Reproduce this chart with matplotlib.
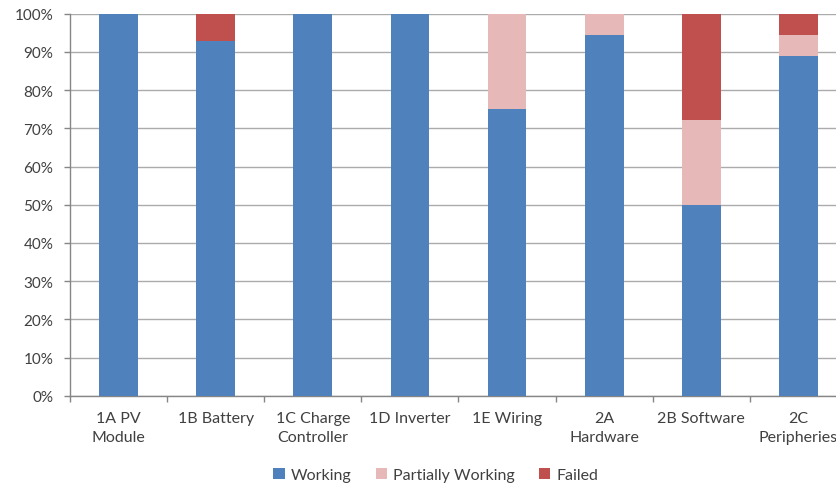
import matplotlib
matplotlib.use("Agg")
import matplotlib.pyplot as plt
import numpy as np
from matplotlib.ticker import FixedLocator, PercentFormatter

categories = ["1A PV\nModule", "1B Battery", "1C Charge\nController", "1D Inverter",
              "1E Wiring", "2A\nHardware", "2B Software", "2C\nPeripheries"]
working = [100, 92.9, 100, 100, 75, 94.4, 50, 88.9]
partial = [0, 0, 0, 0, 25, 5.6, 22.2, 5.55]
failed = [0, 7.1, 0, 0, 0, 0, 27.8, 5.55]

series_names = ["Working", "Partially Working", "Failed"]
colors = ["#4F81BD", "#E6B9B8", "#C0504D"]

plt.rcParams['font.family'] = ['Lato', 'DejaVu Sans']
fig = plt.figure(figsize=(8.37, 4.85), dpi=100)
ax = fig.add_axes([70/837, (485-396.7)/485, 777/837, (396.7-14.7)/485])

x = np.arange(len(categories))
bottom = np.zeros(len(categories))
for name, vals, c in zip(series_names, [working, partial, failed], colors):
    vals = np.array(vals, dtype=float)
    ax.bar(x, vals, 0.4, bottom=bottom, color=c, label=name, zorder=3)
    bottom += vals

ax.set_xlim(-0.5, len(categories) - 0.5)
ax.set_ylim(0, 100)
ax.set_yticks(np.arange(0, 101, 10))
ax.yaxis.set_major_formatter(PercentFormatter(decimals=0))
ax.grid(axis='y', color='#ABABAB', linewidth=1.0, zorder=0)

ax.set_xticks(x)
ax.set_xticklabels(categories, fontsize=11.5, color='#404040', linespacing=1.45)
ax.xaxis.set_minor_locator(FixedLocator(np.arange(-0.5, len(categories), 1.0)))
ax.tick_params(axis='x', which='major', length=0, pad=11)
ax.tick_params(axis='x', which='minor', length=4, color='#868686', width=1)
ax.tick_params(axis='y', length=4, color='#868686', width=1, pad=8, labelsize=11, labelcolor='#404040')

for s in ['top', 'right']:
    ax.spines[s].set_visible(False)
for s in ['left', 'bottom']:
    ax.spines[s].set_color('#868686')
    ax.spines[s].set_linewidth(1)

handles, labels = ax.get_legend_handles_labels()
fig.legend(handles, labels, loc='center', bbox_to_anchor=(436/837, 1 - 476/485),
           ncol=3, frameon=False, fontsize=11.5, handlelength=0.7, handleheight=0.7,
           handletextpad=0.4, columnspacing=1.5, labelcolor='#404040')

fig.savefig("out.png", dpi=100)
